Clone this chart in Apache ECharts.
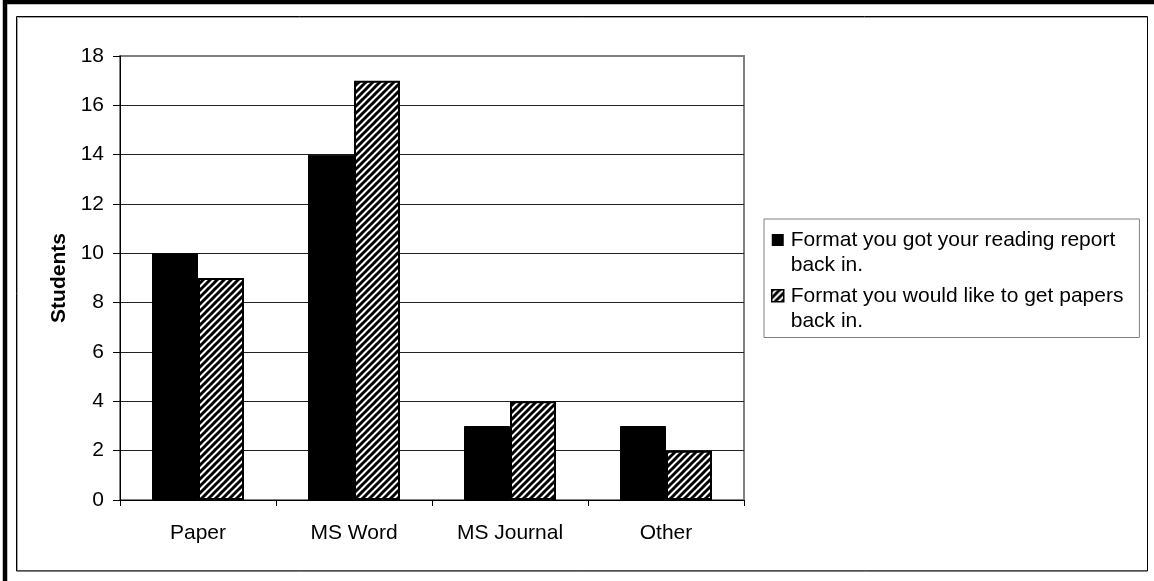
<!DOCTYPE html>
<html>
<head>
<meta charset="utf-8">
<script src="https://cdn.jsdelivr.net/npm/echarts@6/dist/echarts.min.js"></script>
<style>
html,body{margin:0;padding:0;background:#fff;}
#chart{width:1154px;height:581px;}
</style>
</head>
<body>
<div id="chart"></div>
<script>
// ---- data ----
const categories = ['Paper', 'MS Word', 'MS Journal', 'Other'];
const seriesNames = ['Format you got your reading report\nback in.', 'Format you would like to get papers\nback in.'];
const gotValues = [10, 14, 3, 3];
const likeValues = [9, 17, 4, 2];
const yAxisName = 'Students';

// ---- hatch pattern ----
function makeHatch() {
  const c = document.createElement('canvas');
  const s = 7;
  c.width = s; c.height = s;
  const ctx = c.getContext('2d');
  ctx.fillStyle = '#fff';
  ctx.fillRect(0, 0, s, s);
  ctx.strokeStyle = '#000';
  ctx.lineWidth = 3;
  for (const k of [-s, 0, s]) {
    ctx.beginPath();
    ctx.moveTo(k - 1, s + 1);
    ctx.lineTo(k + s + 1, -1);
    ctx.stroke();
  }
  return c;
}
const hatch = { image: makeHatch(), repeat: 'repeat' };

const FONT = "'Liberation Sans', Arial, sans-serif";
// legend icon: square aligned to first text line
const iconPath = 'path://M0,0L0,0M0,50L0,50M0,6L12,6L12,18L0,18Z';

const chart = echarts.init(document.getElementById('chart'), null, { renderer: 'canvas' });
chart.setOption({
  backgroundColor: '#fff',
  animation: false,
  textStyle: { fontFamily: FONT },
  graphic: [
    { type: 'rect', shape: { x: 5, y: 2, width: 1300, height: 800 }, style: { fill: null, stroke: '#000', lineWidth: 4.5 }, silent: true, z: -10 },
    { type: 'rect', shape: { x: 17.5, y: 17.5, width: 1130, height: 553 }, style: { fill: null, stroke: '#a0a0a0', lineWidth: 1 }, silent: true, z: -10 },
    { type: 'rect', shape: { x: 16.5, y: 16.5, width: 1131, height: 554.5 }, style: { fill: null, stroke: '#000', lineWidth: 1 }, silent: true, z: -9 }
  ],
  grid: {
    left: 120, right: 410, top: 56, bottom: 81,
    show: true, borderColor: '#808080', borderWidth: 2, backgroundColor: 'transparent'
  },
  legend: {
    orient: 'vertical',
    left: 764, top: 219,
    padding: [9, 16, 3, 7],
    itemWidth: 12, itemHeight: 50, itemGap: 5,
    borderColor: '#808080', borderWidth: 1,
    backgroundColor: '#fff',
    icon: iconPath,
    textStyle: { fontFamily: FONT, fontSize: 21, lineHeight: 25, color: '#000', padding: [0, 0, 0, 2] },
    data: [
      { name: seriesNames[0], itemStyle: { color: '#000', borderWidth: 0 } },
      { name: seriesNames[1], itemStyle: { color: hatch, borderColor: '#000', borderWidth: 1.5 } }
    ]
  },
  xAxis: {
    type: 'category',
    data: categories,
    axisLine: { lineStyle: { color: '#000', width: 1 } },
    axisTick: { show: true, length: 6, lineStyle: { color: '#000' } },
    axisLabel: { color: '#000', fontSize: 21, fontFamily: FONT, margin: 23 },
    splitLine: { show: false }
  },
  yAxis: {
    type: 'value',
    min: 0, max: 18, interval: 2,
    name: yAxisName,
    nameLocation: 'middle',
    nameGap: 49,
    nameRotate: 90,
    nameTextStyle: { color: '#000', fontSize: 21, fontWeight: 'bold', fontFamily: FONT },
    axisLine: { show: true, lineStyle: { color: '#000', width: 1 } },
    axisTick: { show: true, length: 7, lineStyle: { color: '#000' } },
    axisLabel: { color: '#000', fontSize: 21, fontFamily: FONT, margin: 16 },
    splitLine: { show: true, showMaxLine: false, lineStyle: { color: '#222', width: 1 } }
  },
  series: [
    {
      name: seriesNames[0], type: 'bar', data: gotValues,
      barWidth: 46, barGap: '0%',
      itemStyle: { color: '#000', borderColor: '#000', borderWidth: 1 }
    },
    {
      name: seriesNames[1], type: 'bar', data: likeValues,
      barWidth: 46, barGap: '0%',
      itemStyle: { color: hatch, borderColor: '#000', borderWidth: 2 }
    }
  ]
});
</script>
</body>
</html>
